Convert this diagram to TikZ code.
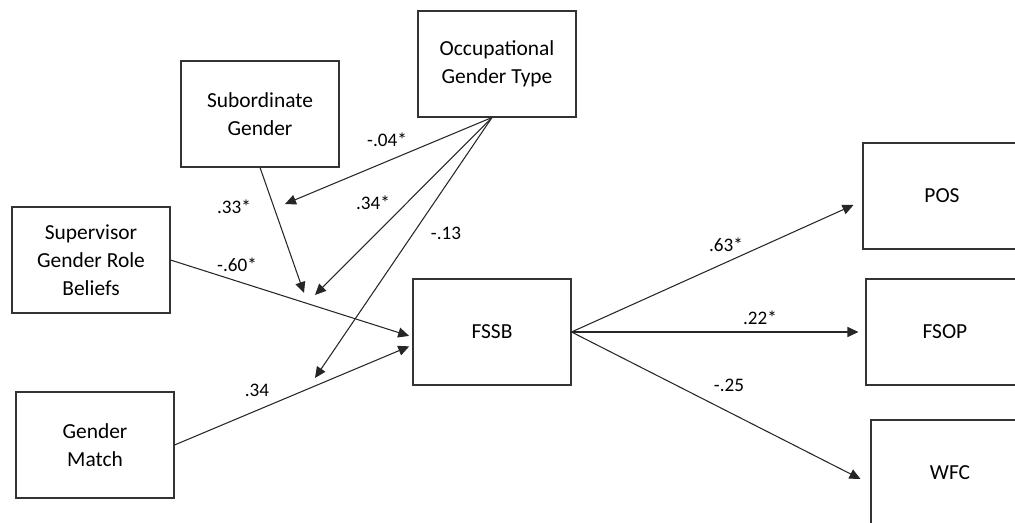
\documentclass[tikz,border=0pt]{standalone}
\usepackage{fontspec}
\setmainfont{Carlito}
\usetikzlibrary{arrows.meta}

\tikzset{
  var/.style={draw=black!80, line width=0.6pt, minimum width=3.16cm, minimum height=2.12cm,
    align=center, inner sep=2pt, font=\fontsize{12.2}{16}\selectfont},
  effect/.style={draw=black!85, line width=0.6pt, -{Triangle[length=0.22cm, width=0.2cm]}},
  coef/.style={inner sep=0pt, font=\fontsize{10.9}{13}\selectfont}
}

\begin{document}
\begin{tikzpicture}[x=0.02cm, y=-0.02cm]
    \useasboundingbox (0,0) rectangle (1015,523);
    \clip (0,0) rectangle (1015,523);
    % Moderators
    \node[var] (occ) at (497,64) {Occupational\\Gender Type};
    \node[var] (sub) at (260,114) {Subordinate\\Gender};
    % Predictors
    \node[var] (sup) at (91,260) {Supervisor\\Gender Role\\Beliefs};
    \node[var] (match) at (95,445) {Gender\\Match};
    % Mediator
    \node[var] (fssb) at (492,332) {FSSB};
    % Outcomes
    \node[var] (pos) at (942,196) {POS};
    \node[var] (fsop) at (945,332) {FSOP};
    \node[var] (wfc) at (950,473) {WFC};
    % Ends of the moderation arrows
    \coordinate (occsub) at (285,204);
    \coordinate (subsup) at (304,293);
    \coordinate (occsup) at (315,295);
    \coordinate (occmatch) at (315,378);
    % Moderation paths
    \draw[effect] ([xshift=-0.1cm]occ.south) -- (occsub);
    \draw[effect] ([xshift=-0.1cm]occ.south) -- (occsup);
    \draw[effect] ([xshift=-0.1cm]occ.south) -- (occmatch);
    \draw[effect] (sub.south) -- (subsup);
    % Paths into FSSB
    \draw[effect, shorten >=0.07cm] (sup.east) -- ([yshift=-0.1cm]fssb.west);
    \draw[effect, shorten >=0.07cm] (match.east) -- ([yshift=-0.26cm]fssb.west);
    % Paths out of FSSB
    \draw[effect] (fssb.east) -- ([xshift=-0.18cm, yshift=-0.18cm]pos.west);
    \draw[effect] (fssb.east) -- ([xshift=-0.14cm]fsop.west);
    \draw[effect] (fssb.east) -- ([xshift=-0.2cm, yshift=-0.12cm]wfc.west);
    % Coefficients
    \node[coef] (c-occsub) at (387,140) {-.04*};
    \node[coef] (c-occsup) at (373,203) {.34*};
    \node[coef] (c-occmatch) at (446,233) {-.13};
    \node[coef] (c-subsup) at (234,207) {.33*};
    \node[coef] (c-sup) at (237,265) {-.60*};
    \node[coef] (c-match) at (257,390) {.34};
    \node[coef] (c-pos) at (726,245) {.63*};
    \node[coef] (c-fsop) at (760,318) {.22*};
    \node[coef] (c-wfc) at (729,385) {-.25};
\end{tikzpicture}
\end{document}
